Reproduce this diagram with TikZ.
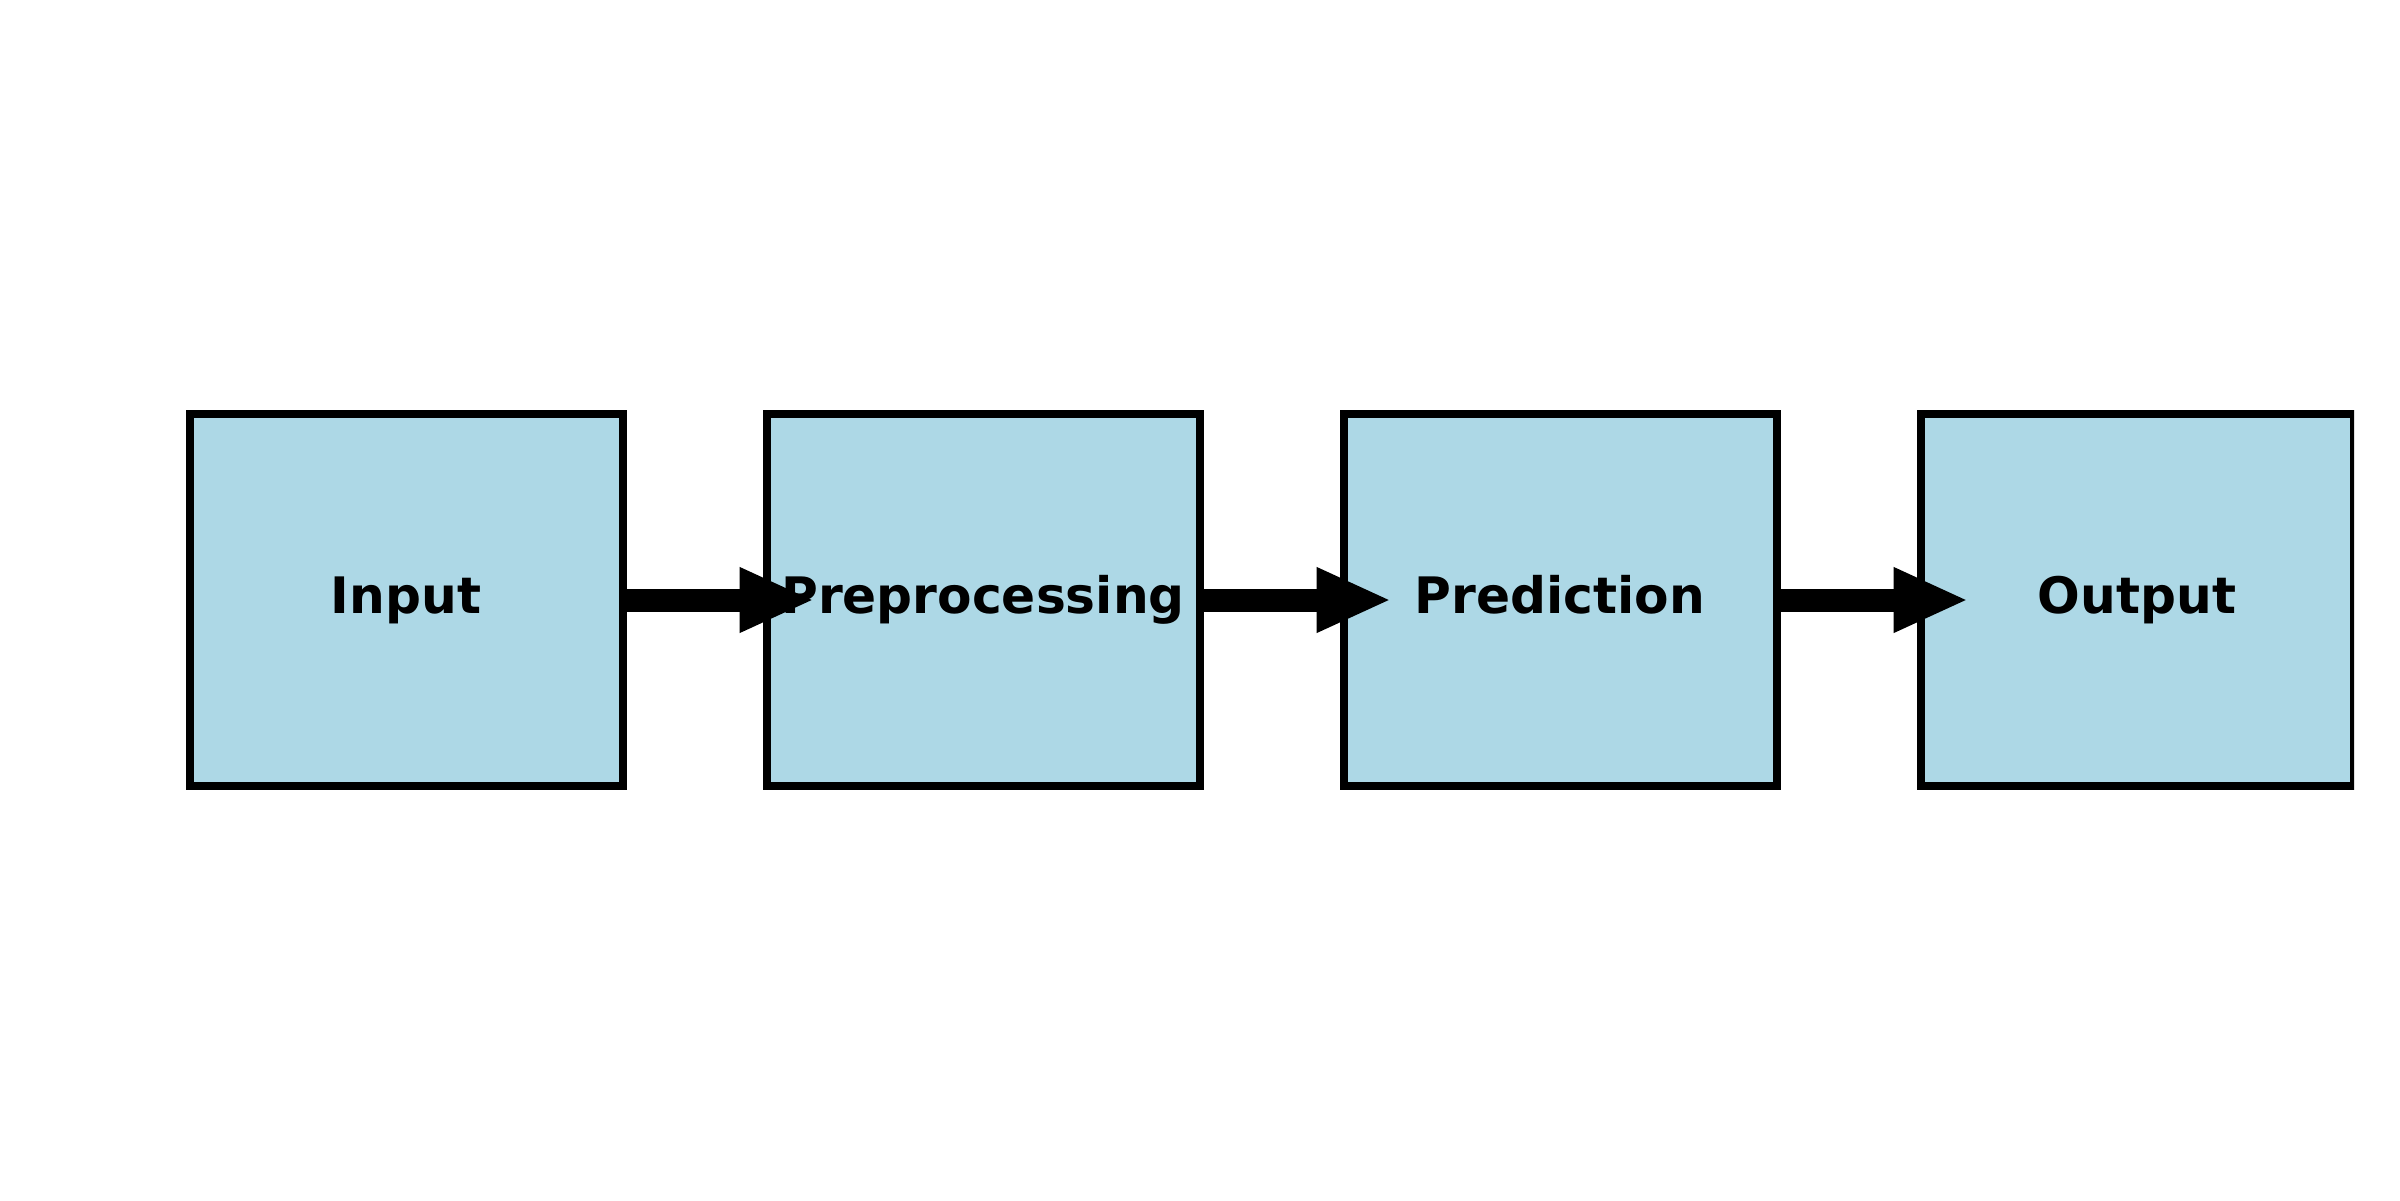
\documentclass[tikz,border=0pt]{standalone}
\usepackage{fontspec}
\setmainfont{DejaVu Sans}
\usetikzlibrary{arrows.meta}
\definecolor{boxblue}{HTML}{ADD8E6}
\tikzset{
  stage/.style={draw=black, fill=boxblue, line width=0.08cm,
    minimum width=4.33cm, minimum height=3.72cm, inner sep=0pt, outer sep=0pt,
    text height=10.9pt, text depth=3.4pt,
    font=\bfseries\fontsize{14.3}{17}\selectfont},
  flow/.style={line width=0.23cm, -{Triangle[length=0.75cm,width=0.6cm]}}
}
\begin{document}
\begin{tikzpicture}
\fill[white] (0,0) rectangle (24,12);
\useasboundingbox (0,0) rectangle (24,12);
\begin{scope}
\clip (0,0) rectangle (23.54,12);
\node[stage] (a) at (4.06,6.0) {Input};
\node[stage] (b) at (9.83,6.0) {Preprocessing};
\node[stage] (c) at (15.60,6.0) {Prediction};
\node[stage] (d) at (21.37,6.0) {Output};
\draw[flow] (a.east) -- ([xshift=0.48cm]b.west);
\draw[flow] (b.east) -- ([xshift=0.48cm]c.west);
\draw[flow] (c.east) -- ([xshift=0.48cm]d.west);
\end{scope}
\end{tikzpicture}
\end{document}
